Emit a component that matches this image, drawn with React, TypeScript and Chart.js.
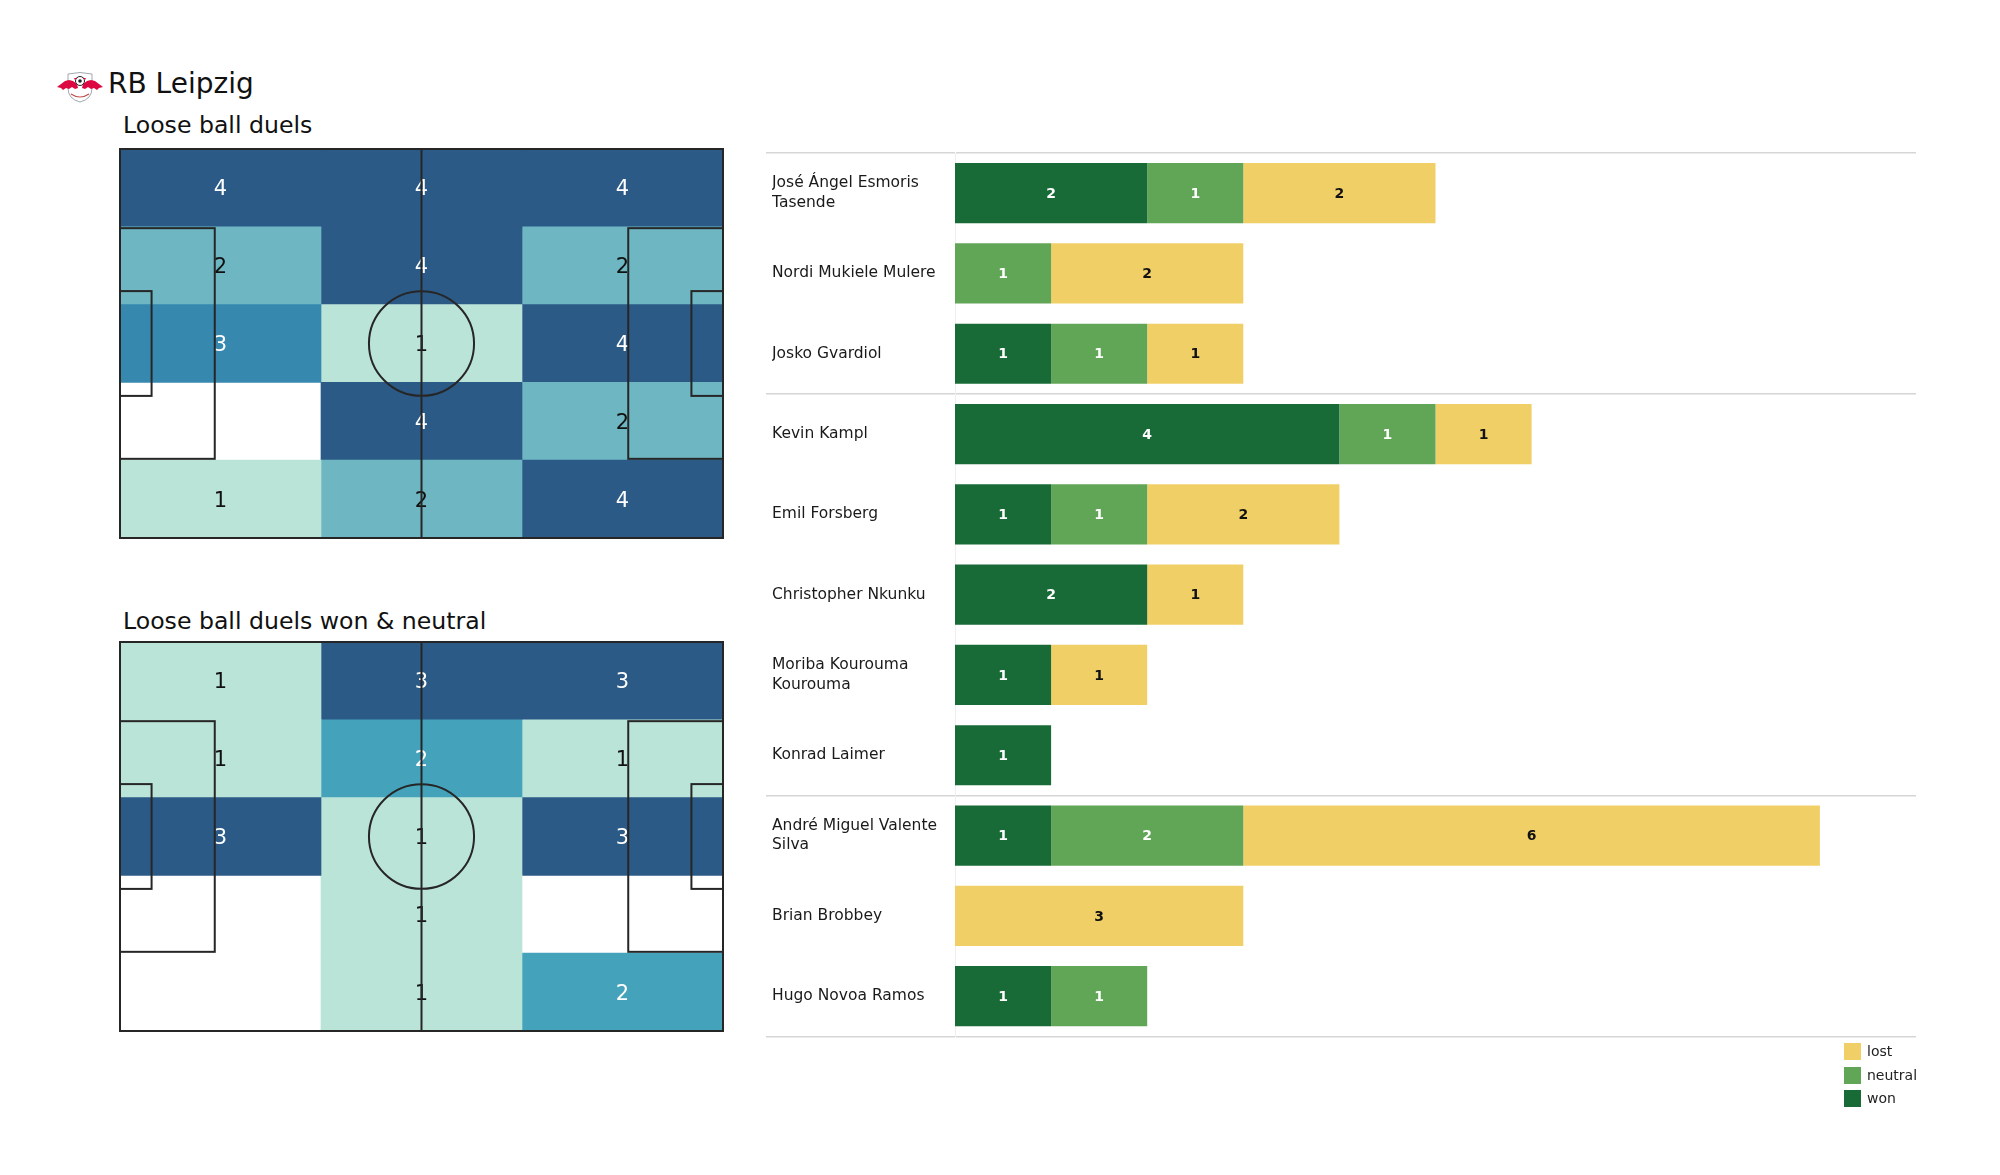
import React, { useEffect, useRef } from 'react';
import { Chart, registerables } from 'chart.js';

Chart.register(...registerables);

const FONT = '"DejaVu Sans", "Noto Sans", sans-serif';
Chart.defaults.font.family = FONT;

// ---------------- Heatmap data (rows top→bottom, columns left→right) ----------------
const heatRowLabels = ['Row 1', 'Row 2', 'Row 3', 'Row 4', 'Row 5'];
const pitchColumnEdges = [0, 35, 70, 105];
const pitchWidth = 68;
const looseBallDuels = [
  [4, 4, 4],
  [2, 4, 2],
  [3, 1, 4],
  [0, 4, 2],
  [1, 2, 4],
];
const looseBallDuelsWonNeutral = [
  [1, 3, 3],
  [1, 2, 1],
  [3, 1, 3],
  [0, 1, 0],
  [0, 1, 2],
];

// ---------------- Player bar data ----------------
const players: (string | string[])[] = [
  ['José Ángel Esmoris', 'Tasende'],
  'Nordi Mukiele Mulere',
  'Josko Gvardiol',
  'Kevin Kampl',
  'Emil Forsberg',
  'Christopher Nkunku',
  ['Moriba Kourouma', 'Kourouma'],
  'Konrad Laimer',
  ['André Miguel Valente', 'Silva'],
  'Brian Brobbey',
  'Hugo Novoa Ramos',
];
const won = [2, 0, 1, 4, 1, 2, 1, 1, 1, 0, 1];
const neutral = [1, 1, 1, 1, 1, 0, 0, 0, 2, 0, 1];
const lost = [2, 2, 1, 1, 2, 1, 1, 0, 6, 3, 0];
const groupBoundaries = [0, 3, 8, 11];
const legendLabels = ['lost', 'neutral', 'won'];

const WON = '#186b37';
const NEUTRAL = '#61a656';
const LOST = '#f0cf67';
const SEP = '#d6d6d6';

const heatStops: [number, number[]][] = [
  [0, [187, 228, 217]],
  [1 / 3, [110, 183, 194]],
  [0.5, [69, 162, 187]],
  [2 / 3, [54, 136, 174]],
  [1, [44, 90, 135]],
];

function heatT(v: number, max: number) {
  return max > 1 ? (v - 1) / (max - 1) : 1;
}

function heatColor(v: number, max: number) {
  if (v <= 0) return 'rgba(255,255,255,0)';
  const t = heatT(v, max);
  for (let i = 0; i < heatStops.length - 1; i++) {
    const [t0, c0] = heatStops[i];
    const [t1, c1] = heatStops[i + 1];
    if (t >= t0 - 1e-9 && t <= t1 + 1e-9) {
      const f = (t - t0) / (t1 - t0);
      const c = c0.map((a, k) => Math.round(a + (c1[k] - a) * f));
      return `rgb(${c[0]},${c[1]},${c[2]})`;
    }
  }
  return 'rgb(44,90,135)';
}

const pitchPlugin = {
  id: 'pitchLines',
  afterDatasetsDraw(chart: any) {
    const { ctx } = chart;
    const x = chart.scales.x;
    const y = chart.scales.y;
    const rowSize = pitchWidth / heatRowLabels.length;
    const X = (v: number) => x.getPixelForValue(v);
    const Y = (v: number) => y.getPixelForValue(v / rowSize - 0.5);
    ctx.save();
    ctx.strokeStyle = '#262626';
    ctx.lineWidth = 2;
    const rect = (x0: number, y0: number, x1: number, y1: number) => {
      ctx.strokeRect(X(x0), Y(y0), X(x1) - X(x0), Y(y1) - Y(y0));
    };
    rect(0, 0, 105, 68);
    rect(0, 13.84, 16.5, 54.16);
    rect(88.5, 13.84, 105, 54.16);
    rect(0, 24.84, 5.5, 43.16);
    rect(99.5, 24.84, 105, 43.16);
    ctx.beginPath();
    ctx.moveTo(X(52.5), Y(0));
    ctx.lineTo(X(52.5), Y(68));
    ctx.stroke();
    ctx.beginPath();
    ctx.ellipse(X(52.5), Y(34), Math.abs(X(9.15) - X(0)), Math.abs(Y(9.15) - Y(0)), 0, 0, Math.PI * 2);
    ctx.stroke();
    ctx.restore();
  },
};

const heatLabelPlugin = {
  id: 'heatLabels',
  afterDatasetsDraw(chart: any) {
    const { ctx } = chart;
    ctx.save();
    ctx.font = `21px ${FONT}`;
    ctx.textAlign = 'center';
    ctx.textBaseline = 'middle';
    chart.data.datasets.forEach((ds: any, i: number) => {
      const meta = chart.getDatasetMeta(i);
      meta.data.forEach((el: any, j: number) => {
        const v = ds.cellValues[j];
        if (!v) return;
        ctx.fillStyle = heatT(v, ds.maxValue) >= 0.5 ? '#ffffff' : '#111111';
        ctx.fillText(String(v), (el.x + el.base) / 2, el.y + 2);
      });
    });
    ctx.restore();
  },
};

const valueLabelPlugin = {
  id: 'valueLabels',
  afterDatasetsDraw(chart: any) {
    const { ctx } = chart;
    ctx.save();
    ctx.font = `bold 14px ${FONT}`;
    ctx.textAlign = 'center';
    ctx.textBaseline = 'middle';
    chart.data.datasets.forEach((ds: any, i: number) => {
      const meta = chart.getDatasetMeta(i);
      meta.data.forEach((el: any, j: number) => {
        const v = ds.data[j];
        if (!v) return;
        ctx.fillStyle = ds.label === 'lost' ? '#111111' : '#ffffff';
        ctx.fillText(String(v), (el.x + el.base) / 2, el.y + 1);
      });
    });
    ctx.restore();
  },
};

function Heatmap({ values, left, top }: { values: number[][]; left: number; top: number }) {
  const ref = useRef<HTMLCanvasElement>(null);
  useEffect(() => {
    const max = Math.max(...values.flat());
    const datasets = [0, 1, 2].map((c) => ({
      label: `col${c}`,
      data: values.map(() => [pitchColumnEdges[c], pitchColumnEdges[c + 1]]),
      backgroundColor: values.map((r) => heatColor(r[c], max)),
      cellValues: values.map((r) => r[c]),
      maxValue: max,
      borderWidth: 0,
      barPercentage: 1,
      categoryPercentage: 1,
      grouped: false,
    }));
    const chart = new Chart(ref.current as HTMLCanvasElement, {
      type: 'bar',
      data: { labels: heatRowLabels, datasets: datasets as any },
      options: {
        indexAxis: 'y',
        animation: false,
        responsive: false,
        layout: { padding: 10 },
        plugins: { legend: { display: false }, tooltip: { enabled: false } },
        scales: {
          x: { type: 'linear', min: 0, max: 105, display: false },
          y: { type: 'category', display: false, offset: true },
        } as any,
      },
      plugins: [heatLabelPlugin, pitchPlugin],
    });
    return () => chart.destroy();
  }, [values]);
  return (
    <canvas
      ref={ref}
      width={623}
      height={409}
      style={{ position: 'absolute', left, top, width: 623, height: 409 }}
    />
  );
}

function PlayerBars() {
  const ref = useRef<HTMLCanvasElement>(null);
  useEffect(() => {
    const gridColor = (ctx: any) =>
      ctx.index === undefined || groupBoundaries.includes(ctx.index) ? SEP : 'rgba(0,0,0,0)';
    const chart = new Chart(ref.current as HTMLCanvasElement, {
      type: 'bar',
      data: {
        labels: players,
        datasets: [
          { label: 'won', data: won, backgroundColor: WON },
          { label: 'neutral', data: neutral, backgroundColor: NEUTRAL },
          { label: 'lost', data: lost, backgroundColor: LOST },
        ],
      },
      options: {
        indexAxis: 'y',
        animation: false,
        responsive: false,
        layout: { padding: { left: 12, right: 14, top: 13, bottom: 10 } },
        datasets: { bar: { barPercentage: 0.75, categoryPercentage: 1, borderWidth: 0 } },
        plugins: { legend: { display: false }, tooltip: { enabled: false } },
        scales: {
          x: { stacked: true, min: 0, max: 10, display: false },
          y: {
            stacked: true,
            afterFit: (s: any) => {
              s.width = 183;
            },
            border: { display: true, color: '#efefef', width: 1 },
            grid: {
              offset: true,
              color: gridColor,
              tickColor: gridColor,
              lineWidth: 1.5,
              tickLength: 189,
              drawOnChartArea: true,
            },
            ticks: {
              autoSkip: false,
              crossAlign: 'far',
              color: '#1a1a1a',
              padding: 0,
              font: { family: FONT, size: 15.5, lineHeight: 1.27 },
            },
          },
        } as any,
      },
      plugins: [valueLabelPlugin],
    });
    return () => chart.destroy();
  }, []);
  return (
    <canvas
      ref={ref}
      width={1170}
      height={916}
      style={{ position: 'absolute', left: 760, top: 140, width: 1170, height: 916 }}
    />
  );
}

function Logo() {
  return (
    <svg
      width={48}
      height={34}
      viewBox="0 0 48 34"
      style={{ position: 'absolute', left: 56, top: 70 }}
    >
      <path d="M12 4 Q24 1 36 4 L36 18 Q36 29 24 32 Q12 29 12 18 Z" fill="#ffffff" stroke="#a0a8b0" strokeWidth={1} />
      <path d="M15 24 Q24 30 33 24" fill="none" stroke="#c0504d" strokeWidth={1.2} />
      <g fill="#dd0741">
        <path d="M1 17 L5 14 L9 11 L13 10 L17 11 L21 14 L22 18 L19 19 L16 17 L13 19 L10 18 L7 20 L5 18 Z" />
        <path d="M47 17 L43 14 L39 11 L35 10 L31 11 L27 14 L26 18 L29 19 L32 17 L35 19 L38 18 L41 20 L43 18 Z" />
      </g>
      <circle cx={24} cy={11} r={4.5} fill="#ffffff" stroke="#222" strokeWidth={1} />
      <circle cx={24} cy={11} r={1.8} fill="#222" />
      <path d="M18 9 L21 8 M30 9 L27 8" stroke="#dd0741" strokeWidth={1} />
    </svg>
  );
}

const textBase: React.CSSProperties = {
  position: 'absolute',
  fontFamily: FONT,
  color: '#111',
  lineHeight: 1,
  whiteSpace: 'nowrap',
};

export default function App() {
  const legendColors = [LOST, NEUTRAL, WON];
  return (
    <div style={{ position: 'absolute', left: 0, top: 0, width: 2000, height: 1175, background: '#ffffff', overflow: 'hidden' }}>
      <Logo />
      <div style={{ ...textBase, left: 108, top: 70, fontSize: 28 }}>RB Leipzig</div>
      <div style={{ ...textBase, left: 123, top: 114, fontSize: 23.6 }}>Loose ball duels</div>
      <div style={{ ...textBase, left: 123, top: 610, fontSize: 23.6 }}>Loose ball duels won &amp; neutral</div>
      <Heatmap values={looseBallDuels} left={110} top={139} />
      <Heatmap values={looseBallDuelsWonNeutral} left={110} top={632} />
      <PlayerBars />
      {legendLabels.map((l, i) => (
        <div key={l}>
          <div
            style={{
              position: 'absolute',
              left: 1844,
              top: 1043 + i * 23.5,
              width: 17,
              height: 17,
              background: legendColors[i],
            }}
          />
          <div style={{ ...textBase, left: 1867, top: 1044 + i * 23.5, fontSize: 14, color: '#222' }}>{l}</div>
        </div>
      ))}
    </div>
  );
}
